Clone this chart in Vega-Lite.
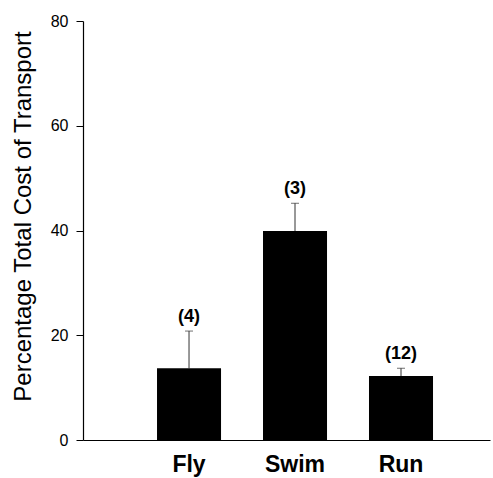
{
  "$schema": "https://vega.github.io/schema/vega-lite/v6.json",
  "width": 407,
  "height": 419,
  "autosize": "none",
  "padding": {"left": 83, "top": 21, "right": 3, "bottom": 38},
  "background": "white",
  "config": {
    "view": {"stroke": null},
    "font": "Liberation Sans"
  },
  "data": {
    "values": [
      {"mode": "Fly", "value": 13.7, "upper": 20.8, "n": "(4)"},
      {"mode": "Swim", "value": 39.9, "upper": 45.2, "n": "(3)"},
      {"mode": "Run", "value": 12.2, "upper": 13.7, "n": "(12)"}
    ]
  },
  "encoding": {
    "x": {
      "field": "mode",
      "type": "nominal",
      "sort": ["Fly", "Swim", "Run"],
      "scale": {"paddingInner": 0.396, "paddingOuter": 0.618, "align": 0.565},
      "axis": {
        "title": null,
        "labelAngle": 0,
        "ticks": false,
        "labelFont": "Liberation Sans",
        "labelFontWeight": "bold",
        "labelFontSize": 23,
        "labelColor": "black",
        "labelPadding": 13,
        "domainColor": "black",
        "domainWidth": 1.2
      }
    }
  },
  "layer": [
    {
      "mark": {"type": "rule", "color": "#333", "strokeWidth": 1},
      "encoding": {
        "y": {"field": "value", "type": "quantitative"},
        "y2": {"field": "upper"}
      }
    },
    {
      "mark": {"type": "tick", "color": "#333", "size": 8, "thickness": 1, "orient": "horizontal"},
      "encoding": {
        "y": {"field": "upper", "type": "quantitative"}
      }
    },
    {
      "mark": {"type": "bar", "color": "black"},
      "encoding": {
        "y": {
          "field": "value",
          "type": "quantitative",
          "scale": {"domain": [0, 80]},
          "axis": {
            "title": "Percentage Total Cost of Transport",
            "values": [0, 20, 40, 60, 80],
            "grid": false,
            "tickSize": 7,
            "tickColor": "black",
            "domainColor": "black",
            "domainWidth": 1.2,
            "labelFont": "Liberation Sans",
            "labelFontSize": 16,
            "labelColor": "black",
            "labelPadding": 8,
            "titleFont": "Liberation Sans",
            "titleFontSize": 24,
            "titleFontWeight": "normal",
            "titleColor": "black",
            "titleAngle": -90,
            "titleX": -60,
            "titleY": 195,
            "titleAlign": "center",
            "titleBaseline": "middle"
          }
        }
      }
    },
    {
      "mark": {"type": "text", "fontWeight": "bold", "fontSize": 18, "baseline": "middle", "dy": -14, "color": "black", "font": "Liberation Sans"},
      "encoding": {
        "y": {"field": "upper", "type": "quantitative"},
        "text": {"field": "n"}
      }
    }
  ]
}
